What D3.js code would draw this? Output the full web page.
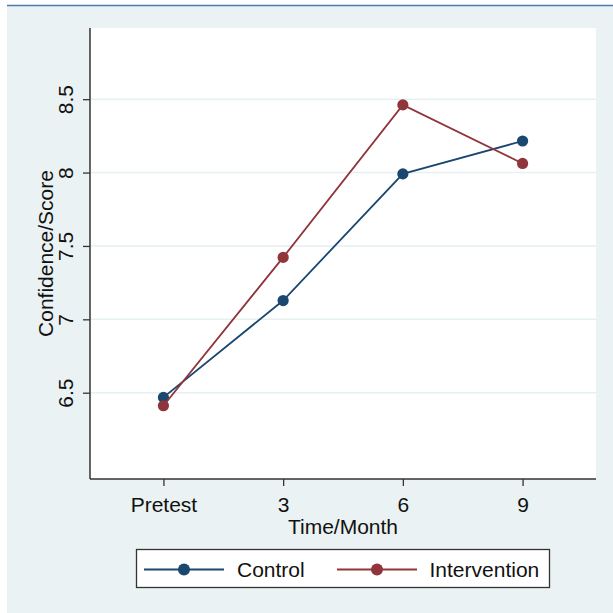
<!DOCTYPE html>
<html>
<head>
<meta charset="utf-8">
<script src="https://cdn.jsdelivr.net/npm/d3@7"></script>
<style>
  html, body { margin: 0; padding: 0; background: #ffffff; }
  svg { display: block; }
  text { font-family: "Liberation Sans", Arial, sans-serif; fill: #111; }
</style>
</head>
<body>
<svg id="chart" width="613" height="613"></svg>
<script>
// Time points and mean scores per group
const timeLabels = ["Pretest", "3", "6", "9"];
const timeValues = [0, 3, 6, 9];
const controlScores = [6.468, 7.128, 7.991, 8.215];
const interventionScores = [6.411, 7.422, 8.461, 8.062];
const yTicks = [6.5, 7, 7.5, 8, 8.5];
const yTickLabels = ["6.5", "7", "7.5", "8", "8.5"];

const series = [
  { name: "Control", values: controlScores, color: "#1a476f" },
  { name: "Intervention", values: interventionScores, color: "#90353b" }
];

const svg = d3.select("#chart");
const bg = "#eaf2f3";
const fontSize = "21px";

// graph region
svg.append("rect").attr("x", 7).attr("y", 5).attr("width", 606).attr("height", 608).attr("fill", bg);
svg.append("line").attr("x1", 7).attr("x2", 613).attr("y1", 5.5).attr("y2", 5.5)
  .attr("stroke", "#4b7ba6").attr("stroke-width", 1.5);

const plot = { left: 90, right: 596, top: 28, bottom: 479 };

// plot region
svg.append("rect").attr("x", plot.left).attr("y", plot.top)
  .attr("width", plot.right - plot.left).attr("height", plot.bottom - plot.top)
  .attr("fill", "#ffffff");

const x = d3.scaleLinear().domain([-1.84, 10.84]).range([plot.left, plot.right]);
const y = d3.scaleLinear().domain([5.912, 8.985]).range([plot.bottom, plot.top]);

// horizontal grid
svg.append("g").selectAll("line").data(yTicks).join("line")
  .attr("x1", plot.left).attr("x2", plot.right)
  .attr("y1", d => y(d)).attr("y2", d => y(d))
  .attr("stroke", "#e6eff1").attr("stroke-width", 1.6);

// y axis
const yAxis = svg.append("g").attr("transform", `translate(${plot.left},0)`)
  .call(d3.axisLeft(y).tickValues(yTicks).tickSize(7).tickPadding(0)
    .tickFormat((d, i) => yTickLabels[i]));
yAxis.select(".domain").attr("d", `M0,${plot.top}V${plot.bottom}`)
  .attr("stroke", "#333").attr("stroke-width", 1.5);
yAxis.selectAll(".tick line").attr("stroke", "#333").attr("stroke-width", 1.3);
yAxis.selectAll(".tick text")
  .attr("x", null).attr("dy", null)
  .attr("transform", "translate(-17,0) rotate(-90)")
  .attr("text-anchor", "middle")
  .style("font-size", fontSize).style("font-family", "'Liberation Sans', Arial, sans-serif")
  .attr("fill", "#111");

// x axis
const xAxis = svg.append("g").attr("transform", `translate(0,${plot.bottom})`)
  .call(d3.axisBottom(x).tickValues(timeValues).tickSize(7)
    .tickFormat((d, i) => timeLabels[i]));
xAxis.select(".domain").attr("d", `M${plot.left},0H${plot.right}`)
  .attr("stroke", "#333").attr("stroke-width", 1.5);
xAxis.selectAll(".tick line").attr("stroke", "#333").attr("stroke-width", 1.3);
xAxis.selectAll(".tick text")
  .attr("y", 33).attr("dy", null)
  .style("font-size", fontSize).style("font-family", "'Liberation Sans', Arial, sans-serif")
  .attr("fill", "#111");

// axis titles
svg.append("text").attr("x", (plot.left + plot.right) / 2).attr("y", 533.5)
  .attr("text-anchor", "middle").style("font-size", fontSize).text("Time/Month");
svg.append("text").attr("transform", `translate(52.5,${(plot.top + plot.bottom) / 2}) rotate(-90)`)
  .attr("text-anchor", "middle").style("font-size", fontSize).text("Confidence/Score");

// lines and markers
const line = d3.line().x((d, i) => x(timeValues[i])).y(d => y(d));
series.forEach(s => {
  svg.append("path").datum(s.values).attr("d", line)
    .attr("fill", "none").attr("stroke", s.color).attr("stroke-width", 1.8);
  svg.append("g").selectAll("circle").data(s.values).join("circle")
    .attr("cx", (d, i) => x(timeValues[i])).attr("cy", d => y(d))
    .attr("r", 5.6).attr("fill", s.color);
});

// legend
const legend = svg.append("g");
legend.append("rect").attr("x", 136.5).attr("y", 549.5).attr("width", 413).attr("height", 38)
  .attr("fill", "#ffffff").attr("stroke", "#333").attr("stroke-width", 1.3);
const legendItems = [
  { s: series[0], x0: 144, textX: 237 },
  { s: series[1], x0: 337, textX: 429.5 }
];
legendItems.forEach(it => {
  const ly = 569.5;
  legend.append("line").attr("x1", it.x0).attr("x2", it.x0 + 80).attr("y1", ly).attr("y2", ly)
    .attr("stroke", it.s.color).attr("stroke-width", 1.8);
  legend.append("circle").attr("cx", it.x0 + 40).attr("cy", ly).attr("r", 6).attr("fill", it.s.color);
  legend.append("text").attr("x", it.textX).attr("y", 577)
    .style("font-size", fontSize).text(it.s.name);
});
</script>
</body>
</html>
